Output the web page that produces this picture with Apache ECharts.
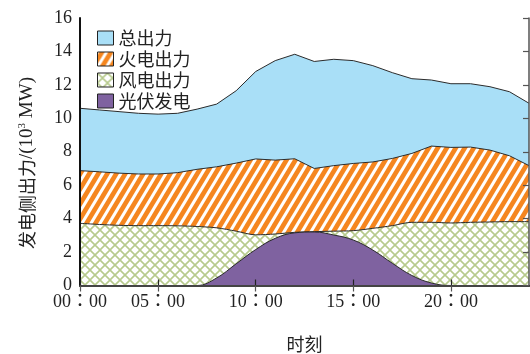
<!DOCTYPE html>
<html>
<head>
<meta charset="utf-8">
<script src="https://cdn.jsdelivr.net/npm/echarts@6/dist/echarts.min.js"></script>
<style>
  html, body { margin: 0; padding: 0; background: #fff; }
  #chart { width: 530px; height: 354px; }
</style>
</head>
<body>
<div id="chart"></div>
<script>
// Hour index of each sample (1 = first hour of the day)
const hours = [1, 2, 3, 4, 5, 6, 7, 8, 9, 10, 11, 12, 13, 14, 15, 16, 17, 18, 19, 20, 21, 22, 23, 24];

// Generation side output, 10^3 MW
const totalOutput   = [10.6, 10.5, 10.4, 10.3, 10.25, 10.3, 10.55, 10.85, 11.65, 12.8, 13.45, 13.83, 13.4, 13.53, 13.45, 13.15, 12.73, 12.37, 12.29, 12.07, 12.07, 11.89, 11.59, 10.9];
const thermalOutput = [6.87, 6.8, 6.72, 6.67, 6.67, 6.75, 6.95, 7.1, 7.32, 7.57, 7.5, 7.58, 7.0, 7.17, 7.3, 7.39, 7.6, 7.9, 8.34, 8.26, 8.28, 8.1, 7.76, 7.17];
const windOutput    = [3.72, 3.65, 3.6, 3.58, 3.58, 3.57, 3.53, 3.45, 3.25, 3.03, 3.08, 3.18, 3.22, 3.25, 3.28, 3.42, 3.58, 3.78, 3.78, 3.74, 3.78, 3.8, 3.82, 3.82];
const pvOutput      = [0, 0, 0, 0, 0, 0, 0, 0.45, 1.3, 2.15, 2.82, 3.15, 3.2, 3.02, 2.72, 2.12, 1.33, 0.6, 0.15, 0, 0, 0, 0, 0];

const seriesNames = ['总出力', '火电出力', '风电出力', '光伏发电'];

// Time axis ticks and their labels
const tickPositions = [1, 5, 10, 15, 20];
const tickLabels = ['00：00', '05：00', '10：00', '15：00', '20：00'];

// Y axis range
const yMin = 0, yMax = 16, yStep = 2;

// Fill patterns
function stripePattern() {
  const W = 9, H = 15;
  const c = document.createElement('canvas');
  c.width = W; c.height = H;
  const g = c.getContext('2d');
  g.fillStyle = '#f5861f';
  g.fillRect(0, 0, W, H);
  g.strokeStyle = '#ffffff';
  g.lineWidth = 3;
  for (let k = -1; k <= 3; k++) {
    g.beginPath();
    g.moveTo(k * W + 0.5 * W, -0.5 * H);
    g.lineTo(k * W - 1.5 * W, 1.5 * H);
    g.stroke();
  }
  return { image: c, repeat: 'repeat' };
}
function crossPattern() {
  const S = 10;
  const c = document.createElement('canvas');
  c.width = S; c.height = S;
  const g = c.getContext('2d');
  g.fillStyle = '#ffffff';
  g.fillRect(0, 0, S, S);
  g.strokeStyle = '#b7ca8d';
  g.lineWidth = 1.6;
  g.beginPath();
  g.moveTo(-2, -2); g.lineTo(S + 2, S + 2);
  g.moveTo(S + 2, -2); g.lineTo(-2, S + 2);
  g.stroke();
  return { image: c, repeat: 'repeat' };
}

const fills = ['#a9dff7', stripePattern(), crossPattern(), '#7f62a0'];
const values = [totalOutput, thermalOutput, windOutput, pvOutput];
const smoothness = [false, false, 0.3, 0.4];

const serif = '"Liberation Serif", "Noto Sans CJK TC", serif';
const cjk = '"Noto Sans CJK SC", "Liberation Serif", sans-serif';

const chart = echarts.init(document.getElementById('chart'), null, { renderer: 'canvas' });

const series = values.map((vals, i) => ({
  name: seriesNames[i],
  type: 'line',
  data: hours.map((h, j) => [h, vals[j]]),
  smooth: smoothness[i],
  symbol: 'none',
  lineStyle: { color: '#2b2b2b', width: 1 },
  itemStyle: { color: fills[i] },
  areaStyle: { color: fills[i], opacity: 1 },
  z: 2 + i
}));

const option = {
  animation: false,
  backgroundColor: '#ffffff',
  grid: { left: 80, right: 1, top: 18, bottom: 68.5, containLabel: false, outerBoundsMode: 'none' },
  legend: {
    orient: 'vertical',
    left: 97,
    top: 29,
    padding: 0,
    icon: 'rect',
    itemWidth: 16,
    itemHeight: 14,
    itemGap: 3,
    textStyle: { fontFamily: cjk, fontSize: 18, lineHeight: 18, color: '#222' },
    data: seriesNames.map((n, i) => ({
      name: n,
      itemStyle: { color: fills[i], borderColor: '#222', borderWidth: 1 }
    }))
  },
  xAxis: [
    {
      type: 'value',
      position: 'bottom',
      min: 1, max: 24,
      z: 10,
      axisLine: { lineStyle: { color: '#111', width: 2 } },
      axisTick: { inside: true, length: 6, customValues: tickPositions, lineStyle: { color: '#222', width: 1.2 } },
      axisLabel: {
        customValues: tickPositions,
        formatter: v => tickLabels[tickPositions.indexOf(v)],
        fontFamily: serif, fontSize: 18, color: '#222', margin: 8
      },
      splitLine: { show: false },
      name: '时刻',
      nameLocation: 'middle',
      nameGap: 50,
      nameTextStyle: { fontFamily: cjk, fontSize: 18, color: '#222' }
    },
    {
      type: 'value',
      position: 'top',
      min: 1, max: 24,
      z: 10,
      axisLine: { lineStyle: { color: '#555', width: 1.5 } },
      axisTick: { inside: true, length: 6, customValues: tickPositions, lineStyle: { color: '#555', width: 1.2 } },
      axisLabel: { show: false },
      splitLine: { show: false }
    }
  ],
  yAxis: [
    {
      type: 'value',
      position: 'left',
      min: yMin, max: yMax, interval: yStep,
      z: 10,
      axisLine: { show: true, lineStyle: { color: '#111', width: 2 } },
      axisTick: { show: false },
      axisLabel: { fontFamily: serif, fontSize: 18, color: '#222', margin: 8 },
      splitLine: { show: false }
    },
    {
      type: 'value',
      position: 'right',
      min: yMin, max: yMax, interval: yStep,
      z: 10,
      axisLine: { show: true, lineStyle: { color: '#555', width: 1.5 } },
      axisTick: { show: true, inside: true, length: 6, lineStyle: { color: '#555', width: 1.2 } },
      axisLabel: { show: false },
      splitLine: { show: false }
    }
  ],
  graphic: [
    {
      type: 'text',
      x: 27,
      y: 163,
      rotation: Math.PI / 2,
      style: {
        text: '{a|发电侧出力}{b|/(10}{s|3}{b| MW)}',
        align: 'center',
        verticalAlign: 'middle',
        fill: '#222',
        rich: {
          a: { fontFamily: cjk, fontSize: 18, lineHeight: 20, fill: '#222' },
          b: { fontFamily: serif, fontSize: 19, lineHeight: 20, fill: '#222' },
          s: { fontFamily: serif, fontSize: 11, lineHeight: 20, verticalAlign: 'top', fill: '#222' }
        }
      }
    }
  ],
  series: series
};

chart.setOption(option);
</script>
</body>
</html>
